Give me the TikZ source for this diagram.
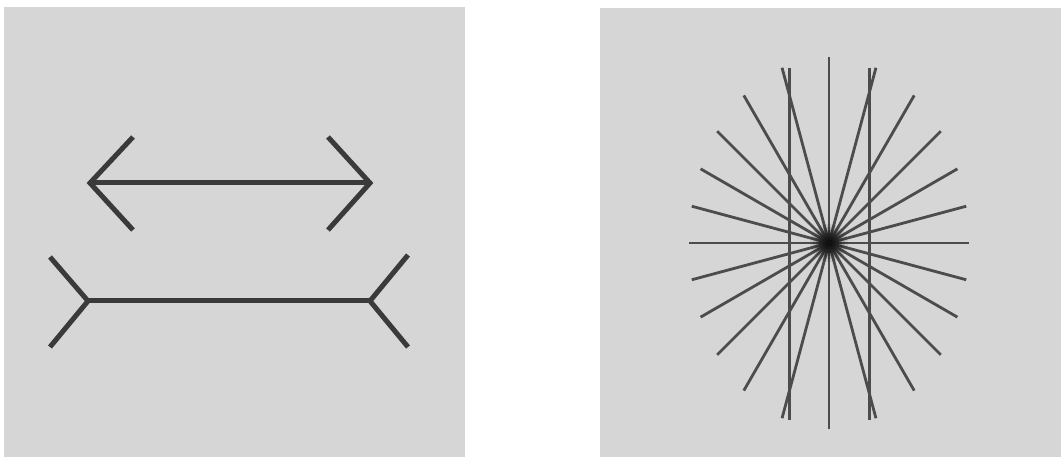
\documentclass[tikz,border=0pt]{standalone}
\begin{document}
\definecolor{bg}{HTML}{D6D6D6}
\definecolor{ink}{HTML}{3A3A3A}
\definecolor{rayc}{HTML}{4C4C4C}
\begin{tikzpicture}[x=1pt,y=-1pt,
  arr/.style={draw=ink,line width=5pt,line join=miter},
  ray/.style={draw=rayc,line width=2.8pt},
  par/.style={draw=rayc,line width=3pt}]
\useasboundingbox (0,0) rectangle (1061,457);
\fill[white] (0,0) rectangle (1061,457);
\fill[bg] (4,7) rectangle (465,457);
\fill[bg] (600,8) rectangle (1061,457);
% Mueller-Lyer: outward heads
\path[arr] (133,137) -- (90,183) -- (133,230);
\path[arr] (90,183) -- (370,183);
\path[arr] (328,137) -- (370,183) -- (328,230);
% inward fins
\path[arr] (50,257) -- (88,301) -- (50,347);
\path[arr] (88,301) -- (370,301);
\path[arr] (408,255) -- (370,301) -- (408,347);
% Hering
\coordinate (c) at (829,243);
\foreach \t in {0,15,...,165}{
  \pgfmathsetmacro\r{100*1.40*1.86/sqrt((1.86*cos(\t))^2+(1.40*sin(\t))^2)}
  \path[ray,shift={(c)}] (\t:\r) -- (\t+180:\r);
}
\path[par] (789,68) -- (789,420);
\path[par] (869,68) -- (869,420);
\foreach \rr/\o in {19/0.08,16/0.12,13/0.18,10/0.25,7/0.3,4/0.3}{
  \fill[black,opacity=\o] (c) circle (\rr);
}
\end{tikzpicture}
\end{document}
